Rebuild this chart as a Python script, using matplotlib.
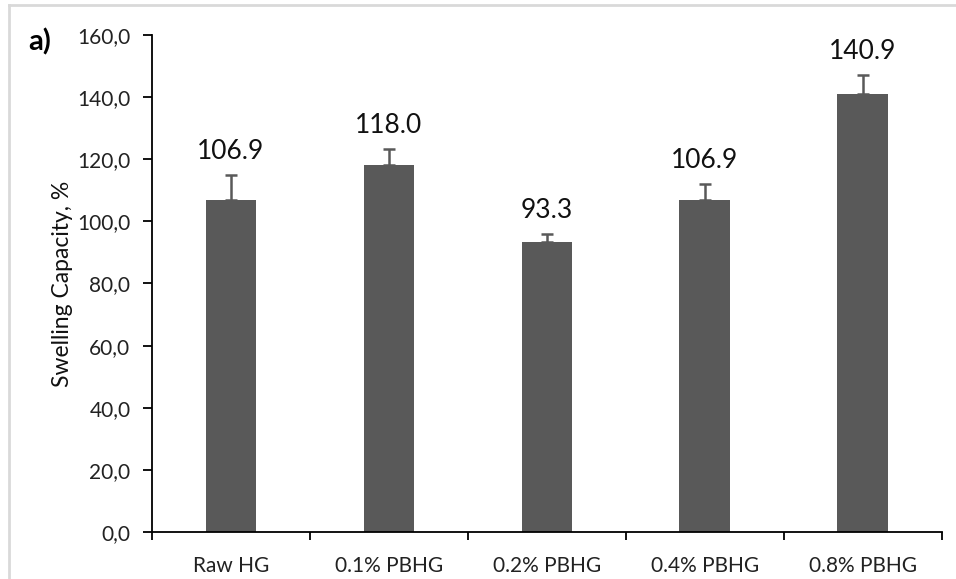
import matplotlib.pyplot as plt
from matplotlib.lines import Line2D
from matplotlib.ticker import FixedLocator, FuncFormatter

categorias = ["Raw HG", "0.1% PBHG", "0.2% PBHG", "0.4% PBHG", "0.8% PBHG"]
valores = [106.9, 118.0, 93.3, 106.9, 140.9]
erros = [8.0, 5.2, 2.7, 5.2, 6.2]
rotulos = ["106.9", "118.0", "93.3", "106.9", "140.9"]

plt.rcParams['font.family'] = ['Lato', 'DejaVu Sans']

fig = plt.figure(figsize=(9.56, 5.79), dpi=100)
ax = fig.add_axes([0.159, 0.0812, 0.826, 0.8584])

cor = "#595959"
x = range(len(categorias))
ax.bar(x, valores, width=0.32, color=cor, zorder=2)
ax.errorbar(x, valores, yerr=[[0] * len(erros), erros], fmt='none',
            ecolor=cor, elinewidth=1.8, capsize=4, capthick=1.8, zorder=3)

for i, (v, e, r) in enumerate(zip(valores, erros, rotulos)):
    ax.annotate(r, (i, v + e), xytext=(0, 8), textcoords='offset points',
                ha='center', va='bottom', fontsize=19, color='#111111')

ax.set_xlim(-0.5, 4.5)
ax.set_ylim(0, 160)
ax.set_yticks(range(0, 161, 20))
ax.yaxis.set_major_formatter(FuncFormatter(lambda v, p: f"{v:.1f}".replace(".", ",")))
ax.set_xticks(list(x))
ax.set_xticklabels(categorias)
ax.xaxis.set_minor_locator(FixedLocator([i - 0.5 for i in range(len(categorias) + 1)]))
ax.tick_params(axis='x', which='major', length=0, labelsize=15, pad=17, labelcolor='#222222')
ax.tick_params(axis='x', which='minor', length=6, width=1.3, direction='out')
ax.tick_params(axis='y', length=6.5, width=1.3, labelsize=15, pad=9, labelcolor='#222222')

for s in ['top', 'right']:
    ax.spines[s].set_visible(False)
for s in ['left', 'bottom']:
    ax.spines[s].set_linewidth(1.3)

ax.set_ylabel("Swelling Capacity, %", fontsize=16.5, labelpad=3, color='#111111')
fig.text(0.03, 0.928, "a)", fontsize=21, fontweight='bold', va='center')

# moldura cinza (apenas esquerda e topo visiveis)
fig.lines.append(Line2D([0.0095, 0.0095], [0, 0.991], transform=fig.transFigure,
                        color="#d9d9d9", linewidth=2))
fig.lines.append(Line2D([0.0095, 1], [0.991, 0.991], transform=fig.transFigure,
                        color="#d9d9d9", linewidth=2))

fig.savefig("out.png", dpi=100)
